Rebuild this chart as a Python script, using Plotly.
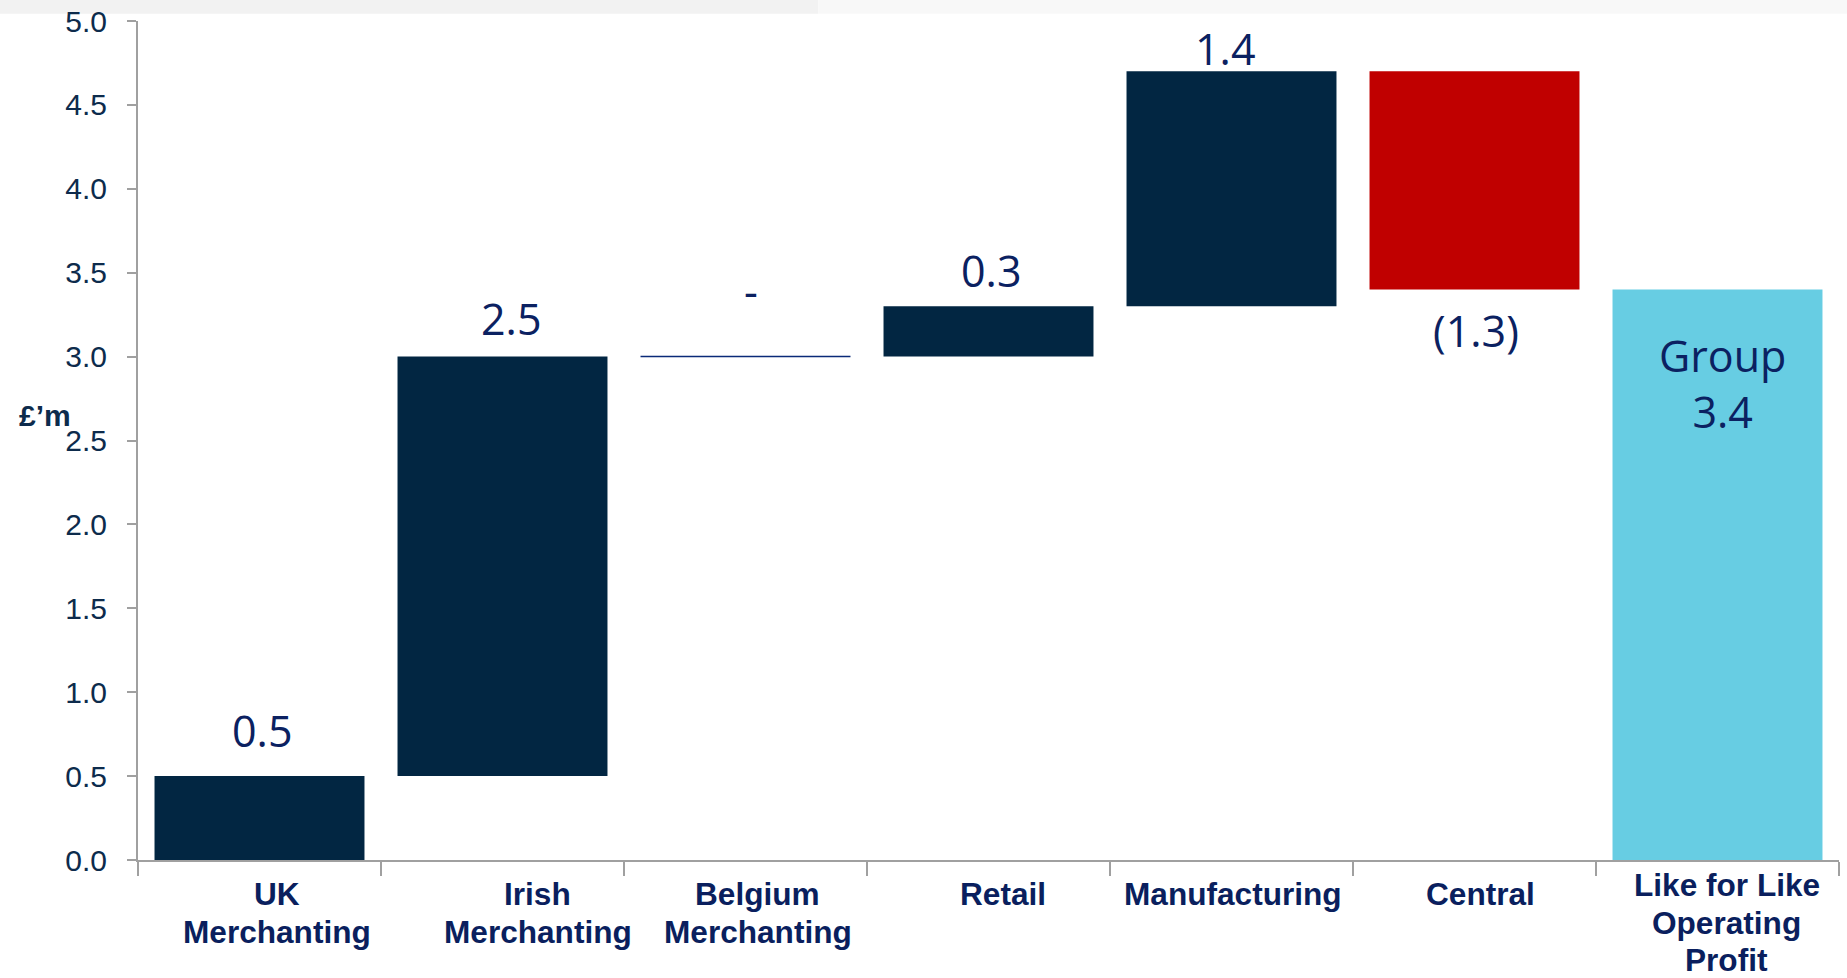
import plotly.graph_objects as go

# ---------------- data ----------------
categories = ["UK Merchanting", "Irish Merchanting", "Belgium Merchanting",
              "Retail", "Manufacturing", "Central", "Like for Like Operating Profit"]
category_lines = [["UK", "Merchanting"], ["Irish", "Merchanting"], ["Belgium", "Merchanting"],
                  ["Retail"], ["Manufacturing"], ["Central"],
                  ["Like for Like", "Operating", "Profit"]]
changes = [0.5, 2.5, 0.0, 0.3, 1.4, -1.3]
total_value = 3.4
total_label = "Group"
y_ticks = [0.0, 0.5, 1.0, 1.5, 2.0, 2.5, 3.0, 3.5, 4.0, 4.5, 5.0]
unit_label = "£’m"

# ---------------- style ----------------
NAVY = "#022642"
RED = "#C00000"
LIGHT_BLUE = "#67CDE3"
LABEL_COLOR = "#0b2161"
TICK_COLOR = "#0d2b4c"
XTICK_COLOR = "#0a1f5e"
AXIS_GREY = "#a0a0a0"
BAR_FRACTION = 0.864
label_shifts = [46, 38, 66, 36, 23, -41, -94]
label_xshifts = [2, 8, 5, 2, -7, 1, 5]
cat_xshifts = [17, 35, 12, 14, 1, 6, 9]
cat_first_line = [34, 34, 34, 34, 34, 34, 25]   # px below axis (cap centre)
cat_line_gap = [38.3, 38.3, 38.3, 38.3, 38.3, 38.3, 37.5]

# waterfall geometry derived from data
bases, heights, colors, texts, anchor_vals = [], [], [], [], []
running = 0.0
for v in changes:
    bases.append(running)
    heights.append(v)
    colors.append(RED if v < 0 else NAVY)
    if v > 0:
        texts.append(f"{v:.1f}")
        anchor_vals.append(running + v)
    elif v < 0:
        texts.append(f"({abs(v):.1f})")
        anchor_vals.append(running + v)
    else:
        texts.append("-")
        anchor_vals.append(running)
    running += v
bases.append(0.0)
heights.append(total_value)
colors.append(LIGHT_BLUE)
texts.append(f"{total_label}<br>{total_value:.1f}")
anchor_vals.append(total_value)

fig = go.Figure()
fig.add_trace(go.Bar(
    x=categories, y=heights, base=bases,
    marker=dict(color=colors, line=dict(width=0)),
    hoverinfo="skip", showlegend=False,
))

# zero-change bars drawn as thin lines
for i, v in enumerate(changes):
    if v == 0:
        fig.add_shape(type="line", xref="x", yref="y",
                      x0=i - BAR_FRACTION / 2, x1=i + BAR_FRACTION / 2,
                      y0=bases[i], y1=bases[i],
                      line=dict(color="#0b2a78", width=1.5))

annotations = []
for i, (cat, t, yv) in enumerate(zip(categories, texts, anchor_vals)):
    annotations.append(dict(
        x=cat, y=yv, xref="x", yref="y", text=t, showarrow=False,
        yshift=label_shifts[i], xshift=label_xshifts[i],
        yanchor="middle", xanchor="center",
        font=dict(family="Open Sans", size=43, color=LABEL_COLOR),
    ))

# category labels (one annotation per line)
for i, (cat, lines) in enumerate(zip(categories, category_lines)):
    for k, line in enumerate(lines):
        annotations.append(dict(
            x=cat, y=0, xref="x", yref="paper", text=f"<b>{line}</b>",
            showarrow=False, xanchor="center", yanchor="middle", borderpad=0,
            xshift=cat_xshifts[i],
            yshift=-(cat_first_line[i] + k * cat_line_gap[i]),
            font=dict(family="Liberation Sans", size=31.6, color=XTICK_COLOR),
        ))

annotations.append(dict(
    x=-0.0547, y=0.530, xref="paper", yref="paper", text=f"<b>{unit_label}</b>",
    showarrow=False, xanchor="center", yanchor="middle",
    font=dict(family="Liberation Sans", size=30, color=TICK_COLOR),
))

# light banner at top
fig.add_shape(type="rect", xref="paper", yref="paper",
              x0=-0.082, x1=0.40, y0=1.0085, y1=1.03,
              fillcolor="#f2f2f2", line=dict(width=0), layer="below")
fig.add_shape(type="rect", xref="paper", yref="paper",
              x0=0.40, x1=1.006, y0=1.0085, y1=1.03,
              fillcolor="#f8f8f8", line=dict(width=0), layer="below")

fig.update_layout(
    width=1847, height=978,
    margin=dict(l=138, r=8, t=21, b=118),
    paper_bgcolor="white", plot_bgcolor="white",
    bargap=1 - BAR_FRACTION,
    annotations=annotations,
    xaxis=dict(
        type="category", tickson="boundaries", ticks="outside", ticklen=14,
        tickcolor=AXIS_GREY, tickwidth=2, showline=True, linecolor=AXIS_GREY,
        linewidth=2, showgrid=False, showticklabels=False, automargin=False,
    ),
    yaxis=dict(
        range=[0, 5], tickvals=y_ticks, tickformat=".1f", ticks="outside",
        ticklen=9, tickcolor=AXIS_GREY, tickwidth=2, showline=True,
        linecolor=AXIS_GREY, linewidth=2, showgrid=False, zeroline=False,
        tickfont=dict(family="Liberation Sans", size=30, color=TICK_COLOR),
        ticklabelstandoff=14, automargin=False,
    ),
)

fig.write_html("out.html")
